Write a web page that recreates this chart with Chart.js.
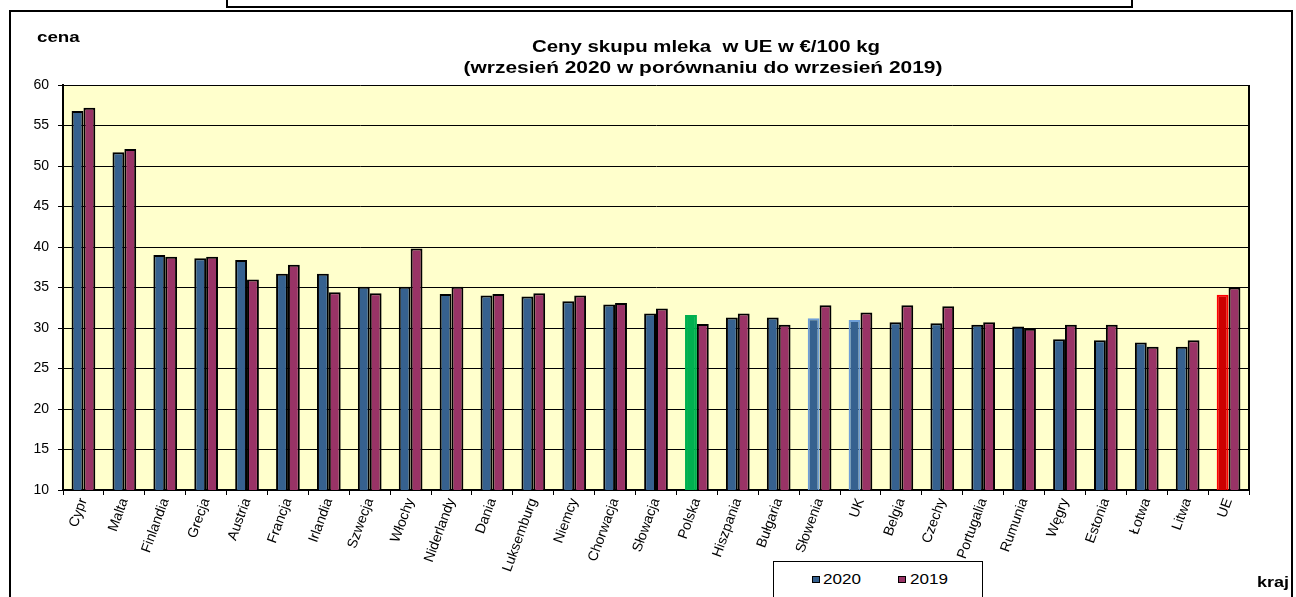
<!DOCTYPE html>
<html>
<head>
<meta charset="utf-8">
<script src="https://cdn.jsdelivr.net/npm/chart.js@4"></script>
<style>
  body { margin: 0; background: #fff; font-family: "Liberation Sans", Arial, sans-serif; }
  #wrap { position: relative; width: 1296px; height: 597px; overflow: hidden; }
  #topbox { position: absolute; left: 226px; top: -4px; width: 903px; height: 8px; border: 2px solid #000; }
  #frame { position: absolute; left: 9px; top: 10px; width: 1280px; height: 600px; border: 2px solid #000; }
  #legend { position: absolute; left: 773px; top: 561px; width: 208px; height: 50px; border: 1.5px solid #000; background: #fff; }
  #legend .sw { position: absolute; top: 14px; width: 6px; height: 5px; border: 1.5px solid #000; }
  #legend .tx { position: absolute; top: 9px; font-size: 14px; line-height: 16px; transform: scaleX(1.22); transform-origin: 0 0; }
  canvas { position: absolute; left: 0; top: 0; }
</style>
</head>
<body>
<div id="wrap">
  <div id="topbox"></div>
  <div id="frame"></div>
  <canvas id="chart" width="1296" height="597"></canvas>
  <div id="legend">
    <div class="sw" style="left:38px;background:#36618F"></div><div class="tx" style="left:49px">2020</div>
    <div class="sw" style="left:124px;background:#993366"></div><div class="tx" style="left:136px">2019</div>
  </div>
</div>
<script>
const countries = ['Cypr', 'Malta', 'Finlandia', 'Grecja', 'Austria', 'Francja', 'Irlandia', 'Szwecja', 'Włochy',
  'Niderlandy', 'Dania', 'Luksemburg', 'Niemcy', 'Chorwacja', 'Słowacja', 'Polska', 'Hiszpania', 'Bułgaria',
  'Słowenia', 'UK', 'Belgia', 'Czechy', 'Portugalia', 'Rumunia', 'Węgry', 'Estonia', 'Łotwa', 'Litwa', 'UE'];
const prices2020 = [56.8, 51.7, 39.0, 38.6, 38.4, 36.7, 36.7, 35.1, 35.1,
  34.2, 34.0, 33.9, 33.3, 32.9, 31.8, 31.6, 31.3, 31.3,
  31.2, 31.0, 30.7, 30.6, 30.4, 30.2, 28.6, 28.5, 28.2, 27.7, 34.1];
const prices2019 = [57.2, 52.1, 38.8, 38.8, 36.0, 37.8, 34.4, 34.3, 39.8,
  35.1, 34.2, 34.3, 34.0, 33.1, 32.4, 30.5, 31.8, 30.4,
  32.8, 31.9, 32.8, 32.7, 30.7, 29.9, 30.4, 30.4, 27.7, 28.5, 35.0];
const yTicks = [10, 15, 20, 25, 30, 35, 40, 45, 50, 55, 60];

// highlighted bars of 2020 series
const fill2020 = countries.map(c =>
  c === 'Polska' ? '#00B050' : c === 'UE' ? '#CC0000' : c === 'Rumunia' ? '#234C7E' : '#36618F');
const border2020 = countries.map(c =>
  c === 'Polska' ? '#00B050' : c === 'UE' ? '#FF0000' : (c === 'Słowenia' || c === 'UK') ? '#6F9FD8' : '#000');

const font = '"Liberation Sans", Arial, sans-serif';

// stretched text, like the original picture
function wideText(ctx, txt, x, y, sx) {
  ctx.save();
  ctx.translate(x, y);
  ctx.scale(sx, 1);
  ctx.fillText(txt, 0, 0);
  ctx.restore();
}

const decor = {
  id: 'decor',
  beforeDraw(chart) {
    const { ctx, chartArea: a } = chart;
    ctx.save();
    ctx.fillStyle = '#FFFFCC';
    ctx.fillRect(a.left, a.top, a.right - a.left, a.bottom - a.top);
    ctx.restore();
  },
  afterDraw(chart) {
    const { ctx, chartArea: a } = chart;
    ctx.save();
    ctx.strokeStyle = '#000';
    ctx.lineWidth = 2;
    ctx.beginPath();
    ctx.moveTo(a.right, a.top);
    ctx.lineTo(a.right, a.bottom);
    ctx.stroke();
    ctx.fillStyle = '#000';
    ctx.textAlign = 'center';
    ctx.textBaseline = 'middle';
    ctx.font = 'bold 17px ' + font;
    wideText(ctx, 'Ceny skupu mleka  w UE w €/100 kg', 706, 47, 1.2);
    wideText(ctx, '(wrzesień 2020 w porównaniu do wrzesień 2019)', 703, 68, 1.23);
    ctx.textAlign = 'left';
    ctx.font = 'bold 15px ' + font;
    wideText(ctx, 'cena', 37, 38, 1.25);
    wideText(ctx, 'kraj', 1257, 583, 1.2);
    ctx.restore();
  }
};

new Chart(document.getElementById('chart'), {
  type: 'bar',
  data: {
    labels: countries,
    datasets: [
      { label: '2020', data: prices2020, backgroundColor: fill2020, borderColor: border2020, borderWidth: 2 },
      { label: '2019', data: prices2019, backgroundColor: '#993366', borderColor: '#000', borderWidth: 2 }
    ]
  },
  options: {
    responsive: false,
    animation: false,
    layout: { padding: { left: 10, right: 47, top: 85, bottom: 0 } },
    datasets: { bar: { categoryPercentage: 0.58, barPercentage: 1.0 } },
    plugins: { legend: { display: false }, title: { display: false }, tooltip: { enabled: false } },
    scales: {
      x: {
        afterFit(s) { s.height = 107; },
        grid: { drawOnChartArea: false, drawTicks: true, tickLength: 5, color: '#000', offset: true },
        border: { color: '#000', width: 2 },
        ticks: { color: '#000', font: { family: font, size: 14 }, minRotation: 70, maxRotation: 70, autoSkip: false, padding: 1 }
      },
      y: {
        min: 10, max: 60,
        afterFit(s) { s.width = 53; },
        afterBuildTicks(s) { s.ticks = yTicks.map(v => ({ value: v })); },
        grid: { color: '#000', lineWidth: 1, tickLength: 5 },
        border: { color: '#000', width: 2 },
        ticks: { color: '#000', font: { family: font, size: 14 }, padding: 9 }
      }
    }
  },
  plugins: [decor]
});
</script>
</body>
</html>
